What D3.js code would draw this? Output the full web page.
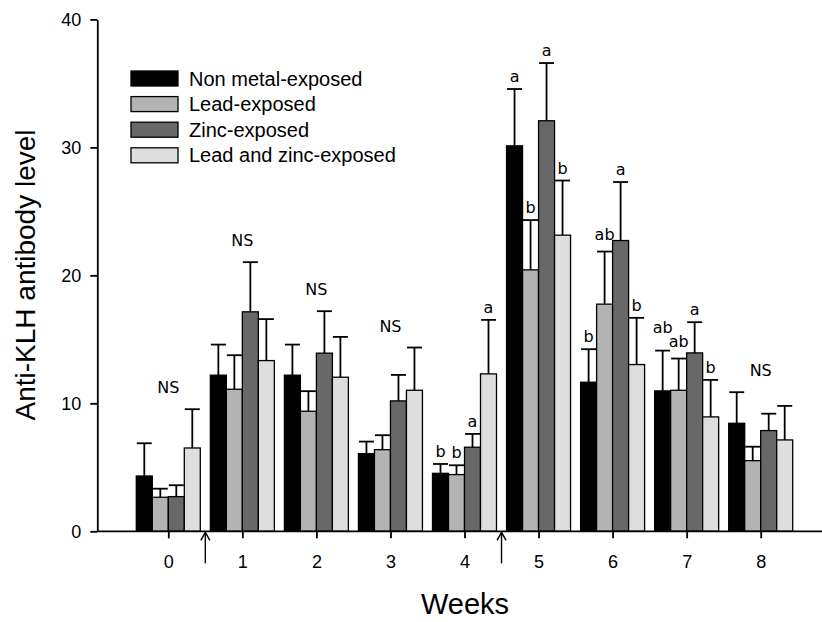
<!DOCTYPE html>
<html><head><meta charset="utf-8">
<script src="https://cdn.jsdelivr.net/npm/d3@7"></script>
<style>body{margin:0;background:#fff}</style>
</head><body>
<svg id="chart" width="822" height="622"></svg>
<script>
const weeks = [0,1,2,3,4,5,6,7,8];
const seriesNames = ["Non metal-exposed","Lead-exposed","Zinc-exposed","Lead and zinc-exposed"];
const seriesColors = ["#000000","#b3b3b3","#686868","#dedede"];
const nonMetal    = [4.32,12.2,12.2,6.07,4.53,30.12,11.65,10.97,8.44];
const nonMetalErr = [2.56,2.39,2.39,0.94,0.73,4.44,2.58,3.15,2.43];
const lead        = [2.66,11.1,9.38,6.38,4.43,20.43,17.75,11.02,5.52];
const leadErr     = [0.67,2.66,1.57,1.13,0.73,3.89,4.11,2.48,1.09];
const zinc        = [2.71,17.15,13.92,10.19,6.57,32.08,22.72,13.94,7.87];
const zincErr     = [0.89,3.88,3.28,2.03,1.04,4.51,4.57,2.40,1.32];
const leadZinc    = [6.51,13.34,12.04,11.02,12.3,23.14,13.03,8.94,7.14];
const leadZincErr = [3.03,3.24,3.15,3.34,4.22,4.27,3.65,2.89,2.66];
const groupLabels = ["NS","NS","NS","NS","","","","","NS"];
const nonMetalLetters = ["","","","","b","a","b","ab",""];
const leadLetters     = ["","","","","b","b","ab","ab",""];
const zincLetters     = ["","","","","a","a","a","a",""];
const leadZincLetters = ["","","","","a","b","b","b",""];
const yTicks = [0,10,20,30,40];
const arrowWeeks = [0.5,4.5];

const means = [nonMetal, lead, zinc, leadZinc];
const errs = [nonMetalErr, leadErr, zincErr, leadZincErr];
const letters = [nonMetalLetters, leadLetters, zincLetters, leadZincLetters];

const svg = d3.select("#chart");
const x = d3.scaleLinear().domain([0,8]).range([168.3,760.7]);
const y = d3.scaleLinear().domain([0,40]).range([531.3,19.4]);
const inner = d3.scaleBand().domain(d3.range(4)).range([-32,32]);
const bw = inner.bandwidth();

const bars = [];
weeks.forEach((w,i)=>{ for(let s=0;s<4;s++) bars.push({w, s, v: means[s][i], e: errs[s][i], l: letters[s][i]}); });

const gBars = svg.append("g");
gBars.selectAll("line.err").data(bars).join("line")
  .attr("x1", d=>x(d.w)+inner(d.s)+bw/2).attr("x2", d=>x(d.w)+inner(d.s)+bw/2)
  .attr("y1", d=>y(d.v)).attr("y2", d=>y(d.v+d.e))
  .attr("stroke","#000").attr("stroke-width",1.8);
gBars.selectAll("line.cap").data(bars).join("line")
  .attr("x1", d=>x(d.w)+inner(d.s)+0.5).attr("x2", d=>x(d.w)+inner(d.s)+bw-0.5)
  .attr("y1", d=>y(d.v+d.e)).attr("y2", d=>y(d.v+d.e))
  .attr("stroke","#000").attr("stroke-width",1.8);
gBars.selectAll("rect").data(bars).join("rect")
  .attr("x", d=>x(d.w)+inner(d.s)).attr("width", bw)
  .attr("y", d=>y(d.v)).attr("height", d=>y(0)-y(d.v))
  .attr("fill", d=>seriesColors[d.s]).attr("stroke","#000").attr("stroke-width",1.3);

// letter labels with simple collision avoidance (raise left label above right neighbour)
const lab = bars.filter(d=>d.l).map(d=>({
  w:d.w, s:d.s, l:d.l,
  cx: x(d.w)+inner(d.s)+bw/2,
  by: y(d.v+d.e) - (d.l.length>1?12:7),
  hw: d.l.length*5
}));
weeks.forEach(w=>{
  const g = lab.filter(d=>d.w===w).sort((a,b)=>b.s-a.s);
  for(let k=1;k<g.length;k++){
    const left=g[k], right=g[k-1];
    if(right.s!==left.s+1) continue;
    if(Math.abs(right.cx-left.cx) < left.hw+right.hw && Math.abs(right.by-left.by) < 14){
      left.by = Math.min(left.by, right.by-14);
    }
  }
});
svg.append("g").selectAll("text").data(lab).join("text")
  .attr("x", d=>d.cx).attr("y", d=>d.by)
  .attr("text-anchor","middle").attr("font-family","DejaVu Sans, Verdana, sans-serif").attr("font-size",16)
  .text(d=>d.l);

svg.append("g").selectAll("text").data(weeks.filter((w,i)=>groupLabels[i])).join("text")
  .attr("x", w=>x(w))
  .attr("y", w=>{const i=weeks.indexOf(w); return y(d3.max(d3.range(4), s=>means[s][i]+errs[s][i])) - 16;})
  .attr("text-anchor","middle").attr("font-family","DejaVu Sans, Verdana, sans-serif").attr("font-size",16)
  .text(w=>groupLabels[weeks.indexOf(w)]);

const xAxis = svg.append("g").attr("transform",`translate(0,${y(0)})`)
  .call(d3.axisBottom(x).tickValues(weeks).tickSize(7).tickPadding(17).tickFormat(d3.format("d")));
xAxis.select(".domain").remove();
svg.append("line").attr("x1",97.3).attr("x2",822).attr("y1",y(0)).attr("y2",y(0)).attr("stroke","#000").attr("stroke-width",1.8);
const yAxis = svg.append("g").attr("transform","translate(97.3,0)")
  .call(d3.axisLeft(y).tickValues(yTicks).tickSize(7).tickSizeOuter(0).tickPadding(9));
[xAxis,yAxis].forEach(g=>{
  g.selectAll("text").attr("font-family","Liberation Sans, Arial, sans-serif").attr("font-size",18).attr("fill","#000");
  g.selectAll("line,path").attr("stroke","#000").attr("stroke-width",1.8);
});

const gArr = svg.append("g").attr("stroke","#000").attr("stroke-width",1.4).attr("fill","none");
arrowWeeks.forEach(a=>{
  gArr.append("line").attr("x1",x(a)).attr("x2",x(a)).attr("y1",y(0)+1).attr("y2",y(0)+32);
  gArr.append("polyline").attr("points",`${x(a)-4.5},${y(0)+9} ${x(a)},${y(0)+1} ${x(a)+4.5},${y(0)+9}`);
});

svg.append("text").attr("transform","translate(35,275) rotate(-90)").attr("text-anchor","middle")
  .attr("font-family","Liberation Sans, Arial, sans-serif").attr("font-size",28).text("Anti-KLH antibody level");
svg.append("text").attr("x",465).attr("y",614).attr("text-anchor","middle")
  .attr("font-family","Liberation Sans, Arial, sans-serif").attr("font-size",29).text("Weeks");

const leg = svg.append("g");
seriesNames.forEach((n,i)=>{
  const cy = 78.5 + i*25.6;
  leg.append("rect").attr("x",131).attr("y",cy-7.5).attr("width",47).attr("height",15)
    .attr("fill",seriesColors[i]).attr("stroke","#000").attr("stroke-width",1.3);
  leg.append("text").attr("x",189).attr("y",cy).attr("dy","0.35em")
    .attr("font-family","Liberation Sans, Arial, sans-serif").attr("font-size",20).text(n);
});
</script>
</body></html>
